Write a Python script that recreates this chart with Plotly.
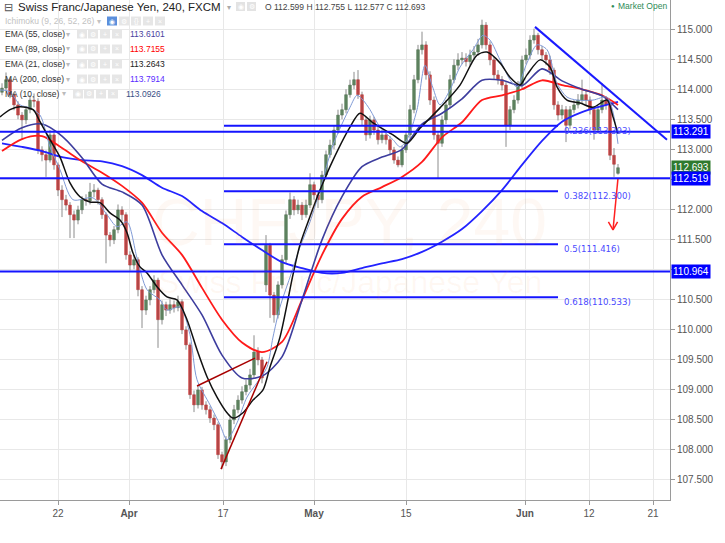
import plotly.graph_objects as go

# ---------------- data ----------------
opens = [113.95, 114.02, 114.16, 113.91, 113.74, 113.57, 113.49, 113.66, 113.82, 113.80,
         112.99, 112.91, 112.82, 113.24, 112.74, 112.32, 112.16, 112.07, 111.91, 111.82,
         111.99, 112.16, 112.14, 112.29, 112.32, 112.16, 111.91, 111.57, 111.49, 111.66,
         111.99, 111.91, 111.24, 111.07, 111.16, 110.66, 110.32, 110.49, 110.66, 110.82,
         110.16, 110.41, 110.32, 110.41, 110.36, 110.46, 109.99, 109.74, 108.91, 108.74,
         108.99, 108.74, 108.66, 108.52, 108.41, 107.91, 107.79, 108.16, 108.49, 108.66,
         108.82, 108.96, 109.07, 109.24, 109.62, 109.49, 110.74, 111.40, 110.57, 110.24,
         110.74, 111.16, 111.91, 112.16, 111.99, 112.07, 111.91, 112.07, 112.41, 112.24,
         112.16, 112.57, 112.91, 113.07, 113.32, 113.57, 113.66, 113.91, 114.07, 114.16,
         113.91, 113.49, 113.24, 113.49, 113.32, 113.16, 113.24, 113.16, 112.99, 112.82,
         112.74, 112.99, 113.24, 113.66, 114.16, 114.66, 114.74, 114.24, 113.82, 113.24,
         113.10, 113.49, 113.74, 114.16, 114.40, 114.49, 114.52, 114.46, 114.57, 114.62,
         114.74, 115.07, 114.74, 114.49, 114.24, 114.16, 114.07, 113.40, 113.66, 113.82,
         114.07, 114.49, 114.57, 114.82, 114.90, 114.66, 114.57, 114.49, 114.32, 113.74,
         113.57, 113.66, 113.40, 113.66, 113.74, 113.82, 113.91, 113.82, 113.66, 113.32,
         113.66, 113.82, 113.74, 112.90, 112.599]
closes = [114.02, 114.16, 113.91, 113.74, 113.57, 113.49, 113.66, 113.82, 113.80, 112.99,
          112.91, 112.82, 113.24, 112.74, 112.32, 112.16, 112.07, 111.91, 111.82, 111.99,
          112.16, 112.14, 112.29, 112.32, 112.16, 111.91, 111.57, 111.49, 111.66, 111.99,
          111.91, 111.24, 111.07, 111.16, 110.66, 110.32, 110.49, 110.66, 110.82, 110.16,
          110.41, 110.32, 110.41, 110.36, 110.46, 109.99, 109.74, 108.91, 108.74, 108.99,
          108.74, 108.66, 108.52, 108.41, 107.91, 107.79, 108.16, 108.49, 108.66, 108.82,
          108.96, 109.07, 109.24, 109.62, 109.49, 109.19, 111.40, 110.57, 110.24, 110.74,
          111.16, 111.91, 112.16, 111.99, 112.07, 111.91, 112.07, 112.41, 112.24, 112.16,
          112.57, 112.91, 113.07, 113.32, 113.57, 113.66, 113.91, 114.07, 114.16, 113.91,
          113.49, 113.24, 113.49, 113.32, 113.16, 113.24, 113.16, 112.99, 112.82, 112.74,
          112.99, 113.24, 113.66, 114.16, 114.66, 114.74, 114.24, 113.82, 113.24, 113.10,
          113.49, 113.74, 114.16, 114.40, 114.49, 114.52, 114.46, 114.57, 114.62, 114.74,
          115.07, 114.74, 114.49, 114.24, 114.16, 114.07, 113.40, 113.66, 113.82, 114.07,
          114.49, 114.57, 114.82, 114.90, 114.66, 114.57, 114.49, 114.32, 113.74, 113.57,
          113.66, 113.40, 113.66, 113.74, 113.82, 113.91, 113.82, 113.66, 113.32, 113.66,
          113.82, 113.74, 112.90, 112.75, 112.693]
highs = [114.10, 114.28, 114.20, 113.95, 113.80, 113.62, 113.72, 113.90, 113.93, 113.85,
         113.05, 112.98, 113.32, 113.28, 112.78, 112.40, 112.24, 112.12, 111.98, 112.06,
         112.22, 112.25, 112.44, 112.42, 112.36, 112.20, 111.95, 111.62, 111.72, 112.08,
         112.05, 111.95, 111.30, 111.24, 111.20, 110.72, 110.56, 110.72, 110.90, 110.86,
         110.48, 110.46, 110.50, 110.48, 110.56, 110.50, 110.05, 109.78, 108.98, 109.07,
         109.04, 108.80, 108.72, 108.58, 108.45, 107.96, 108.22, 108.55, 108.74, 108.90,
         109.05, 109.16, 109.34, 109.90, 109.70, 109.54, 111.57, 111.44, 110.62, 110.80,
         111.24, 111.98, 112.28, 112.22, 112.16, 112.12, 112.16, 112.60, 112.46, 112.30,
         112.64, 112.98, 113.16, 113.40, 113.66, 113.76, 114.00, 114.16, 114.29, 114.32,
         113.96, 113.54, 113.56, 113.54, 113.38, 113.32, 113.32, 113.22, 113.04, 112.88,
         113.06, 113.30, 113.74, 114.24, 114.74, 114.96, 114.80, 114.30, 113.88, 113.30,
         113.56, 113.82, 114.24, 114.50, 114.60, 114.62, 114.60, 114.66, 114.72, 114.84,
         115.16, 115.12, 114.80, 114.54, 114.32, 114.22, 114.12, 113.72, 113.90, 114.14,
         114.56, 114.68, 114.90, 115.01, 114.94, 114.72, 114.62, 114.56, 114.36, 113.80,
         113.74, 113.72, 113.72, 113.82, 113.92, 114.16, 113.98, 113.88, 113.70, 113.72,
         114.10, 113.88, 113.78, 113.02, 112.755]
lows = [113.90, 113.98, 113.85, 113.65, 113.50, 113.16, 113.42, 113.60, 113.70, 112.92,
        112.80, 112.54, 112.78, 112.66, 112.22, 111.87, 111.98, 111.52, 111.52, 111.75,
        111.92, 112.06, 112.08, 112.20, 112.08, 111.84, 111.10, 111.38, 111.42, 111.60,
        111.80, 111.16, 110.98, 111.00, 110.55, 110.02, 110.24, 110.40, 110.60, 109.69,
        110.08, 110.22, 110.26, 110.28, 110.30, 109.92, 109.66, 108.84, 108.62, 108.68,
        108.66, 108.58, 108.44, 108.32, 107.84, 107.67, 107.72, 108.10, 108.42, 108.60,
        108.76, 108.90, 109.00, 109.18, 109.40, 109.10, 110.62, 110.19, 110.11, 110.18,
        110.68, 111.10, 111.84, 111.90, 111.92, 111.82, 111.86, 112.02, 112.16, 112.02,
        112.10, 112.50, 112.86, 113.00, 113.26, 113.50, 113.60, 113.86, 114.00, 113.84,
        113.40, 113.14, 113.18, 113.24, 113.08, 113.10, 113.08, 112.90, 112.76, 112.70,
        112.70, 112.94, 113.18, 113.60, 114.10, 114.58, 114.16, 113.74, 113.16, 112.52,
        113.04, 113.42, 113.68, 114.10, 114.32, 114.42, 114.38, 114.40, 114.50, 114.56,
        114.68, 114.66, 114.40, 114.16, 114.08, 113.98, 113.04, 113.32, 113.60, 113.76,
        114.00, 114.42, 114.50, 114.76, 114.58, 114.48, 114.40, 114.24, 113.66, 113.48,
        113.50, 113.12, 113.34, 113.60, 113.68, 113.76, 113.74, 113.58, 113.16, 113.26,
        113.60, 113.66, 112.82, 112.54, 112.577]

# moving averages (bar index, price)
ma_idx = list(range(0, 151, 5)) + [154]
ma200 = [113.10, 113.04, 112.97, 112.87, 112.82, 112.80, 112.72, 112.57, 112.36, 112.22,
         111.97, 111.77, 111.54, 111.32, 111.12, 111.02, 110.94, 110.94, 111.02, 111.10,
         111.17, 111.29, 111.46, 111.67, 111.97, 112.32, 112.74, 113.14, 113.46, 113.62,
         113.72, 113.79]
ema89 = [112.97, 113.17, 113.22, 113.02, 112.80, 112.61, 112.39, 112.11, 111.61, 111.24,
         110.69, 110.16, 109.78, 109.62, 109.79, 110.49, 111.24, 111.84, 112.21, 112.37,
         112.54, 112.79, 113.20, 113.45, 113.82, 113.90, 114.00, 114.15, 114.07, 114.00,
         113.90, 113.74]
ema55 = [113.15, 113.36, 113.42, 113.22, 112.86, 112.42, 112.29, 112.07, 111.24, 110.74,
         110.24, 109.57, 109.19, 109.22, 109.54, 110.49, 111.49, 112.21, 112.71, 112.87,
         113.00, 113.42, 113.60, 113.84, 114.15, 114.15, 114.06, 114.34, 114.14, 114.00,
         113.89, 113.66]
ema21_idx = [-0.5, 2, 4.5, 7.75, 9.5, 12, 14.5, 17, 19.5, 22, 24.5, 27, 29.5, 31.25, 32.75,
             34.5, 36.25, 38.75, 41.25, 43.75, 46.25, 48.75, 51.25, 53.75, 56.25, 57.75,
             60.25, 62.75, 65.25, 67, 69.5, 72.75, 74.5, 77, 79.5, 82.75, 87, 89.5, 92.75,
             97.75, 101.25, 104.5, 109.5, 114.5, 118.75, 121.25, 124.5, 127, 129.5, 131.25,
             134.5, 137, 138.75, 141.25, 144.5, 147.75, 151.25, 152.75, 154]
ema21 = [113.54, 113.66, 113.71, 113.66, 113.46, 113.16, 112.87, 112.44, 112.21, 112.12,
         112.11, 111.94, 111.82, 111.61, 111.27, 111.04, 110.94, 110.71, 110.54, 110.49,
         110.16, 109.66, 109.21, 108.87, 108.61, 108.52, 108.61, 108.82, 108.99, 109.37,
         109.87, 110.91, 111.41, 111.88, 112.32, 112.82, 113.37, 113.60, 113.44, 113.24,
         113.10, 113.35, 113.69, 114.07, 114.57, 114.62, 114.44, 114.20, 114.07, 114.24,
         114.49, 114.37, 114.04, 113.82, 113.77, 113.70, 113.82, 113.54, 113.26]
ma10_idx = [-0.5, 2, 4.5, 7, 9.5, 12, 14.5, 17.75, 22.75, 26.25, 28.75, 31.25, 33.75, 36.25,
            39.5, 41.25, 44.5, 47, 48.75, 52, 54.5, 56.25, 58.75, 61.25, 63.75, 66.25, 67.75,
            69.5, 72, 74.5, 77, 79.5, 82.75, 87, 88.75, 90.25, 92, 94.5, 97.75, 99.5, 101.25,
            103.75, 105.75, 107.75, 109.5, 112, 114.5, 117.75, 120.25, 122, 124.5, 127,
            128.75, 131.25, 133.75, 136.25, 138.75, 141.25, 143.75, 147.75, 151.25, 152.75, 154]
ma10 = [113.99, 113.96, 113.74, 113.69, 113.57, 113.04, 112.66, 112.16, 112.19, 111.91,
        111.71, 111.79, 111.19, 110.66, 110.49, 110.32, 110.37, 109.91, 109.16, 108.74,
        108.41, 108.16, 108.44, 108.87, 109.11, 109.37, 109.87, 110.37, 110.87, 111.37,
        111.79, 112.32, 113.07, 113.70, 113.90, 113.82, 113.66, 113.37, 113.16, 113.04,
        113.16, 113.66, 114.40, 114.02, 113.74, 113.99, 114.37, 114.66, 114.90, 114.82,
        114.49, 114.16, 114.04, 114.44, 114.74, 114.66, 114.10, 113.87, 113.82, 113.82,
        113.87, 113.62, 113.09]

# drawings
hline_values = [113.291, 112.519, 110.964]
fib_ratios = ["0.236", "0.382", "0.5", "0.618"]
fib_values = [113.393, 112.300, 111.416, 110.533]
fib_x = [55.5, 139]
down_trend_x = [133.25, 166.25]
down_trend_y = [115.04, 113.16]
red_line1_x = [48.75, 63.25]
red_line1_y = [109.055, 109.52]
red_line2_x = [54.75, 66.25]
red_line2_y = [107.67, 109.46]
arrow_x = [154.0, 152.75]
arrow_y = [112.52, 111.655]
arrow_head_x = [151.6, 152.75, 153.9]
arrow_head_y = [111.79, 111.655, 111.79]

x_tick_pos = [14, 31.75, 55.25, 78, 101, 130.75, 146.75, 162.75]
x_tick_text = ["22", "<b>Apr</b>", "17", "<b>May</b>", "15", "<b>Jun</b>", "12", "21"]
price_ticks = [107.5, 108.0, 108.5, 109.0, 109.5, 110.0, 110.5, 111.0,
               111.5, 112.0, 112.5, 113.0, 113.5, 114.0, 114.5, 115.0]
last_price = 112.693

legend_rows = [("EMA (55, close)", "113.6101", "#4a3fa0"),
               ("EMA (89, close)", "113.7155", "#ff0000"),
               ("EMA (21, close)", "113.2643", "#222222"),
               ("MA (200, close)", "113.7914", "#5a2cff"),
               ("MA (10, close)", "113.0926", "#3a4f86")]

# ---------------- figure ----------------
W, H = 725, 543
PW, PH = 670, 500
fig = go.Figure()

idx = list(range(len(closes)))
wx, wy = [], []
for i, (hi, lo) in enumerate(zip(highs, lows)):
    wx += [i, i, None]
    wy += [lo, hi, None]
fig.add_trace(go.Scatter(x=wx, y=wy, mode="lines", line=dict(color="#8c8c8c", width=1),
                         hoverinfo="skip"))
base = [min(o, c) for o, c in zip(opens, closes)]
height = [max(abs(c - o), 0.012) for o, c in zip(opens, closes)]
fill = ["#2f7d32" if c >= o else "#e00000" for o, c in zip(opens, closes)]
edge = ["#2a4f2a" if c >= o else "#b00000" for o, c in zip(opens, closes)]
fig.add_trace(go.Bar(x=idx, y=height, base=base, width=0.62,
                     marker=dict(color=fill, line=dict(color=edge, width=0.5)),
                     hoverinfo="skip"))

def add_line(xs, ys, color, width):
    fig.add_trace(go.Scatter(x=xs, y=ys, mode="lines",
                             line=dict(color=color, width=width, shape="spline", smoothing=0.8),
                             hoverinfo="skip"))

add_line(ma_idx, ma200, "#2323ff", 1.8)
add_line(ma_idx, ema89, "#ff1a1a", 1.8)
add_line(ma_idx, ema55, "#3d3d9e", 1.6)
add_line(ma10_idx, ma10, "#7f9ad6", 1)
add_line(ema21_idx, ema21, "#111111", 1.5)

# red arrow
fig.add_trace(go.Scatter(x=arrow_x, y=arrow_y, mode="lines", line=dict(color="#ff2020", width=1.5),
                         hoverinfo="skip"))
fig.add_trace(go.Scatter(x=arrow_head_x, y=arrow_head_y, mode="lines",
                         line=dict(color="#ff2020", width=1.5), hoverinfo="skip"))

shapes = []
for v in hline_values:
    shapes.append(dict(type="line", xref="paper", x0=0, x1=1, yref="y", y0=v, y1=v,
                       line=dict(color="#1414ff", width=2)))
for v in fib_values:
    shapes.append(dict(type="line", xref="x", x0=fib_x[0], x1=fib_x[1], yref="y", y0=v, y1=v,
                       line=dict(color="#1414ff", width=2)))
shapes.append(dict(type="line", xref="x", yref="y", x0=down_trend_x[0], x1=down_trend_x[1],
                   y0=down_trend_y[0], y1=down_trend_y[1], line=dict(color="#1a1aff", width=2)))
for lx, ly in [(red_line1_x, red_line1_y), (red_line2_x, red_line2_y)]:
    shapes.append(dict(type="line", xref="x", yref="y", x0=lx[0], x1=lx[1], y0=ly[0], y1=ly[1],
                       line=dict(color="#a80000", width=1.5)))

ann = []
FONT = "Arial, Liberation Sans, sans-serif"

def px_txt(x, y, s, size, color, family=FONT, anchor="left"):
    ann.append(dict(x=x / PW, y=1 - y / PH, xref="paper", yref="paper", text=s,
                    showarrow=False, xanchor=anchor, yanchor="middle",
                    font=dict(size=size, color=color, family=family)))

def px_box(x, y, w, h, color):
    shapes.append(dict(type="rect", xref="paper", yref="paper",
                       x0=x / PW, x1=(x + w) / PW, y0=1 - (y + h) / PH, y1=1 - y / PH,
                       fillcolor=color, line=dict(width=0), layer="above"))

# watermark
ann.append(dict(x=350 / PW, y=1 - 222 / PH, xref="paper", yref="paper", text="CHFJPY, 240",
                showarrow=False, font=dict(size=66, color="rgba(245,140,60,0.06)", family=FONT)))
ann.append(dict(x=350 / PW, y=1 - 282 / PH, xref="paper", yref="paper",
                text="Swiss Franc/Japanese Yen",
                showarrow=False, font=dict(size=32, color="rgba(245,140,60,0.06)", family=FONT)))

# header row
px_txt(2, 7, "⊟", 11, "#555")
px_txt(16, 7, "Swiss Franc/Japanese Yen, 240, FXCM", 11.5, "#222")
px_txt(225, 7, "▾", 8, "#aaaaaa")
for bx, g in [(236, "◉"), (247, "⚙")]:
    px_box(bx, 2, 9, 9, "#e3e3e3")
    px_txt(bx + 4.5, 6.5, g, 7, "white", anchor="center")
px_txt(263, 7, "O 112.599 H 112.755 L 112.577 C 112.693", 8.5, "#444")

# Ichimoku row
px_txt(3, 21, "Ichimoku (9, 26, 52, 26)", 8.5, "#c2c2c2")
px_txt(95, 21, "▾", 8, "#c2c2c2")
for k, (bx, g) in enumerate([(107, "◉"), (119, "⚙"), (131, "{}"), (143, "+"), (155, "×")]):
    px_box(bx, 16.5, 10, 9, "#5b8fdc" if k == 0 else "#e6e6e6")
    px_txt(bx + 5, 21, g, 7, "white", anchor="center")

# indicator rows
row_y = [34, 49, 64, 79, 94]
for r, ((lab, val, col), ry) in enumerate(zip(legend_rows, row_y)):
    off = -4 if r == 4 else 0
    px_txt(3, ry, lab, 8.5, "#333")
    px_txt(64 + off, ry, "▾", 8, "#bbbbbb")
    for bx, g in [(77, "◉"), (88, "⚙"), (100, "+"), (112, "×")]:
        px_box(bx + off, ry - 4.5, 10, 9, "#e6e6e6")
        px_txt(bx + off + 5, ry, g, 7, "white", anchor="center")
    px_txt(128 + off, ry, val, 8.5, col)

# market open
px_txt(609, 6, "●", 6, "#2e8b57")
px_txt(616, 6, "Market Open", 8.5, "#2e8b57")

# fib labels
for r, v in zip(fib_ratios, fib_values):
    ann.append(dict(x=140, y=v, xref="x", yref="y", text=f"{r}({v:.3f})", showarrow=False,
                    xanchor="left", yanchor="middle", yshift=-5,
                    font=dict(size=8.6, color="#4a4aff", family="DejaVu Sans")))

# price-axis labels (they cover the regular tick labels beneath them, as in the reference)
axis_boxes = [(hline_values[0], "#0000ff"), (last_price, "#2f7a2f"),
              (hline_values[1], "#0000ff"), (hline_values[2], "#0000ff")]
for v, bg in axis_boxes:
    ann.append(dict(x=1, y=v, xref="paper", yref="y", text=f"{v:.3f}", showarrow=False,
                    xanchor="left", yanchor="middle", xshift=1, bgcolor=bg, borderpad=1,
                    font=dict(size=10, color="white", family=FONT)))
covered = [any(abs(t - v) < 0.11 for v, _ in axis_boxes) for t in price_ticks]
price_tick_text = ["" if c else f"{t:.3f}" for t, c in zip(price_ticks, covered)]

fig.update_layout(
    width=W, height=H, margin=dict(l=0, r=W - PW, t=0, b=H - PH),
    plot_bgcolor="white", paper_bgcolor="white", showlegend=False,
    hovermode=False, bargap=0, shapes=shapes, annotations=ann,
)
fig.update_xaxes(range=[-0.5, 167], tickmode="array", tickvals=x_tick_pos, ticktext=x_tick_text,
                 showgrid=True, gridcolor="#e8e8e8", gridwidth=1, zeroline=False,
                 showline=True, linecolor="#9a9a9a", linewidth=1, ticks="outside", ticklen=4,
                 tickcolor="#9a9a9a", tickfont=dict(size=10, color="#555", family=FONT))
fig.update_yaxes(side="right", range=[107.155, 115.488], tickmode="array", tickvals=price_ticks,
                 ticktext=price_tick_text, showgrid=True, gridcolor="#e8e8e8",
                 gridwidth=1, zeroline=False, showline=True, linecolor="#9a9a9a", linewidth=1,
                 ticks="outside", ticklen=4, tickcolor="#9a9a9a",
                 tickfont=dict(size=10, color="#555", family=FONT))

fig.write_html("out.html", config={"displayModeBar": False, "staticPlot": True},
               post_script="document.body.style.margin='0px';document.body.style.overflow='hidden';")
